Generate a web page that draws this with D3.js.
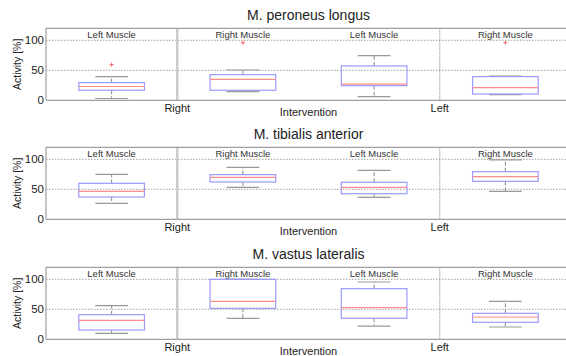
<!DOCTYPE html>
<html>
<head>
<meta charset="utf-8">
<script src="https://cdn.jsdelivr.net/npm/d3@7/dist/d3.min.js"></script>
<style>
  html, body { margin: 0; padding: 0; background: #fff; }
  svg { display: block; font-family: "Liberation Sans", Arial, sans-serif; }
</style>
</head>
<body>
<svg id="chart" width="566" height="356"></svg>
<script>
// Muscle panels and grouping labels
const muscles = ["M. peroneus longus", "M. tibialis anterior", "M. vastus lateralis"];
const innerLabels = ["Left Muscle", "Right Muscle", "Left Muscle", "Right Muscle"];
const outerLabels = ["Right", "Left"];
const outerLabelTitle = "Intervention";
const yTicks = [0, 50, 100];

// Box statistics per panel: [lowWhisker, q1, median, q3, highWhisker] for each of the 4 boxes
const peroneusStats = [
  [3, 16.7, 23, 29.5, 39.5],
  [14.4, 16.7, 35, 42.8, 50.5],
  [6, 24.4, 27, 57.2, 74.5],
  [9.5, 10.5, 21, 39.5, 40.5]
];
const tibialisStats = [
  [26.6, 37.2, 46.7, 60, 75],
  [53.3, 62.2, 70, 74.4, 86.6],
  [36.6, 42.7, 53.3, 61.6, 81.6],
  [46.7, 63.3, 71, 79.4, 99]
];
const vastusStats = [
  [10, 15.5, 31.6, 41, 56],
  [35, 51.6, 63.3, 100, 100],
  [22, 35, 52.7, 84.4, 95.5],
  [20.5, 28.3, 37.2, 43.3, 63.3]
];
// Outliers per panel: [boxIndex (1-based), value]
const peroneusOutliers = [[1, 59.5], [2, 96], [4, 96]];
const tibialisOutliers = [];
const vastusOutliers = [];

const panels = [
  { title: muscles[0], stats: peroneusStats, outliers: peroneusOutliers, top: 28.3 },
  { title: muscles[1], stats: tibialisStats, outliers: tibialisOutliers, top: 147.3 },
  { title: muscles[2], stats: vastusStats, outliers: vastusOutliers, top: 267.3 }
];

const svg = d3.select("#chart");
const plotLeft = 46, plotRight = 571, plotH = 72;
const x = d3.scaleLinear().domain([0.5, 4.5]).range([plotLeft, plotRight]);
const boxHalf = (x(2) - x(1)) / 4;
const capHalf = boxHalf / 2;

const gray = "#a0a0a0";
const boxColor = "#9a9aff";
const medColor = "#ff8c8c";

panels.forEach(p => {
  const y = d3.scaleLinear().domain([0, 120]).range([p.top + plotH, p.top]);
  const g = svg.append("g");

  // title
  g.append("text")
    .attr("x", x(2.5)).attr("y", p.top - 8)
    .attr("text-anchor", "middle").attr("font-size", 14).attr("fill", "#222")
    .text(p.title);

  // horizontal dotted grid
  g.selectAll(".hgrid").data(yTicks.filter(t => t > 0)).join("line")
    .attr("x1", plotLeft).attr("x2", plotRight)
    .attr("y1", d => y(d)).attr("y2", d => y(d))
    .attr("stroke", "#888").attr("stroke-width", 0.8).attr("stroke-dasharray", "1.5,1.5");

  // group separators
  g.append("line")
    .attr("x1", x(1.5)).attr("x2", x(1.5)).attr("y1", p.top).attr("y2", p.top + plotH)
    .attr("stroke", "#d0d0d0").attr("stroke-width", 2.5);
  g.append("line")
    .attr("x1", x(1.5)).attr("x2", x(1.5)).attr("y1", p.top).attr("y2", p.top + plotH)
    .attr("stroke", "#bbb").attr("stroke-width", 1).attr("stroke-dasharray", "1.5,1.5");
  g.append("line")
    .attr("x1", x(3.5)).attr("x2", x(3.5)).attr("y1", p.top).attr("y2", p.top + plotH)
    .attr("stroke", "#999").attr("stroke-width", 1).attr("stroke-dasharray", "1.5,1");

  // axes frame
  g.append("line").attr("x1", plotLeft).attr("x2", plotRight)
    .attr("y1", p.top).attr("y2", p.top).attr("stroke", gray).attr("stroke-width", 1.2);
  g.append("line").attr("x1", plotLeft).attr("x2", plotRight)
    .attr("y1", p.top + plotH).attr("y2", p.top + plotH).attr("stroke", gray).attr("stroke-width", 1.2);
  g.append("line").attr("x1", plotLeft).attr("x2", plotLeft)
    .attr("y1", p.top).attr("y2", p.top + plotH).attr("stroke", gray).attr("stroke-width", 1.2);

  // y tick labels
  g.selectAll(".ytl").data(yTicks).join("text")
    .attr("x", plotLeft - 2).attr("y", d => y(d) + 4)
    .attr("text-anchor", "end").attr("font-size", 11.5).attr("fill", "#222")
    .text(d => d);

  // y axis label
  g.append("text")
    .attr("transform", `translate(21,${p.top + plotH / 2}) rotate(-90)`)
    .attr("text-anchor", "middle").attr("font-size", 10.5).attr("fill", "#222")
    .text("Activity [%]");

  // inner group labels
  g.selectAll(".inl").data(innerLabels).join("text")
    .attr("x", (d, i) => x(i + 1)).attr("y", p.top + 9.5)
    .attr("text-anchor", "middle").attr("font-size", 9.5).attr("fill", "#333")
    .text(d => d);

  // outer group labels
  g.selectAll(".outl").data(outerLabels).join("text")
    .attr("x", (d, i) => x(1.5 + 2 * i)).attr("y", p.top + plotH + 11.5)
    .attr("text-anchor", "middle").attr("font-size", 11).attr("fill", "#222")
    .text(d => d);
  g.append("text")
    .attr("x", x(2.5)).attr("y", p.top + plotH + 16)
    .attr("text-anchor", "middle").attr("font-size", 11).attr("fill", "#222")
    .text(outerLabelTitle);

  // boxes
  p.stats.forEach((s, i) => {
    const cx = x(i + 1);
    const [lo, q1, med, q3, hi] = s;
    // whiskers
    g.append("line").attr("x1", cx).attr("x2", cx).attr("y1", y(q3)).attr("y2", y(hi))
      .attr("stroke", "#888").attr("stroke-width", 1).attr("stroke-dasharray", "4,2");
    g.append("line").attr("x1", cx).attr("x2", cx).attr("y1", y(q1)).attr("y2", y(lo))
      .attr("stroke", "#888").attr("stroke-width", 1).attr("stroke-dasharray", "4,2");
    // caps
    [lo, hi].forEach(v => {
      g.append("line").attr("x1", cx - capHalf).attr("x2", cx + capHalf)
        .attr("y1", y(v)).attr("y2", y(v))
        .attr("stroke", "#999").attr("stroke-width", 1.2);
    });
    // box
    g.append("rect")
      .attr("x", cx - boxHalf).attr("width", 2 * boxHalf)
      .attr("y", y(q3)).attr("height", y(q1) - y(q3))
      .attr("fill", "none").attr("stroke", boxColor).attr("stroke-width", 1.2);
    // median
    g.append("line").attr("x1", cx - boxHalf).attr("x2", cx + boxHalf)
      .attr("y1", y(med)).attr("y2", y(med))
      .attr("stroke", medColor).attr("stroke-width", 1.2);
  });

  // outliers
  p.outliers.forEach(([bi, v]) => {
    const cx = x(bi), cy = y(v);
    g.append("path")
      .attr("d", `M${cx - 2},${cy}H${cx + 2}M${cx},${cy - 2}V${cy + 2}`)
      .attr("stroke", "#ff6060").attr("stroke-width", 1);
  });
});
</script>
</body>
</html>
